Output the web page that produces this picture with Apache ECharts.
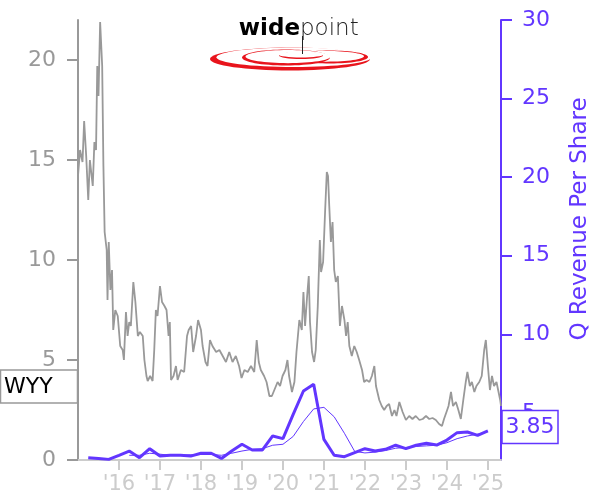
<!DOCTYPE html>
<html>
<head>
<meta charset="utf-8">
<script src="https://cdn.jsdelivr.net/npm/echarts@6/dist/echarts.min.js"></script>
<style>html,body{margin:0;padding:0;background:#fff;}#c{width:600px;height:500px;}</style>
</head>
<body>
<div id="c"></div>
<script>
// ---- data ----
const ticker = 'WYY';
const yearTicks = [2016, 2017, 2018, 2019, 2020, 2021, 2022, 2023, 2024, 2025];

const priceDates = [
2015.00,2015.05,2015.11,2015.15,2015.20,2015.25,2015.29,2015.36,2015.40,2015.44,2015.47,2015.50,2015.54,2015.59,2015.62,2015.65,2015.70,2015.72,2015.75,2015.79,2015.83,2015.86,2015.91,2015.97,
2016.03,2016.09,2016.12,2016.17,2016.21,2016.25,2016.29,2016.35,2016.40,2016.46,2016.51,2016.58,2016.62,2016.67,2016.70,2016.76,2016.82,2016.86,2016.90,2016.94,
2017.00,2017.05,2017.11,2017.16,2017.21,2017.24,2017.27,2017.33,2017.39,2017.43,2017.51,2017.59,2017.66,2017.70,2017.76,2017.81,2017.88,2017.93,
2018.00,2018.04,2018.11,2018.16,2018.22,2018.28,2018.37,2018.45,2018.53,2018.61,2018.69,2018.77,2018.85,2018.93,2018.99,
2019.06,2019.14,2019.22,2019.30,2019.36,2019.41,2019.46,2019.54,2019.60,2019.67,2019.73,2019.79,2019.87,2019.93,2019.99,
2020.06,2020.11,2020.15,2020.22,2020.28,2020.33,2020.40,2020.46,2020.50,2020.54,2020.59,2020.63,2020.66,2020.71,2020.76,2020.80,2020.85,2020.90,2020.93,2020.98,
2021.03,2021.07,2021.10,2021.13,2021.17,2021.21,2021.25,2021.29,2021.34,2021.39,2021.44,2021.50,2021.54,2021.58,2021.62,2021.68,2021.74,2021.80,2021.86,2021.93,2021.98,
2022.04,2022.11,2022.17,2022.23,2022.27,2022.35,2022.41,2022.47,2022.53,2022.59,2022.66,2022.72,2022.77,2022.84,2022.92,
2023.00,2023.08,2023.16,2023.24,2023.33,2023.41,2023.49,2023.57,2023.65,2023.73,2023.81,2023.88,2023.93,2023.99,
2024.04,2024.10,2024.15,2024.22,2024.28,2024.34,2024.40,2024.46,2024.50,2024.56,2024.61,2024.67,2024.72,2024.79,2024.85,2024.91,2024.95,
2025.00,2025.05,2025.10,2025.15,2025.21,2025.26,2025.30,2025.32
];
const priceValues = [
14.2,15.5,14.9,16.95,15.2,13.0,15.0,13.7,15.9,15.5,19.7,18.2,21.9,19.7,14.7,11.4,10.5,8.0,10.9,8.5,9.5,6.5,7.5,7.2,
5.7,5.5,5.0,7.4,6.2,6.9,6.7,8.9,7.9,6.2,6.4,6.2,5.0,4.2,3.95,4.2,3.95,5.5,7.5,7.2,
8.7,7.9,7.7,7.5,6.2,6.9,4.0,4.2,4.7,4.0,4.5,4.4,6.2,6.5,6.7,5.4,6.2,7.0,
6.5,5.7,4.9,4.7,6.0,5.7,5.4,5.5,5.2,4.9,5.4,4.9,5.2,4.7,4.1,
4.5,4.4,4.7,4.4,6.0,4.9,4.5,4.2,3.9,3.2,3.2,3.5,3.9,3.7,4.2,
4.5,5.0,4.2,3.4,3.9,5.4,7.0,6.5,8.4,6.7,8.2,9.2,6.9,5.4,4.9,5.5,7.7,11.0,9.4,9.9,
12.5,14.4,14.2,12.7,10.9,11.9,9.5,8.9,9.2,6.7,7.7,7.0,6.2,6.9,5.7,5.2,5.7,5.4,5.0,4.5,3.9,
4.0,3.9,4.2,4.7,3.7,3.0,2.7,2.5,2.7,2.8,2.2,2.5,2.2,2.9,2.4,
2.0,2.2,2.05,2.2,2.0,2.05,2.2,2.05,2.1,2.0,1.8,1.7,2.05,2.4,
2.7,3.4,2.7,2.9,2.5,2.05,3.0,3.9,4.4,3.7,3.9,3.4,3.7,3.9,4.2,5.5,6.0,
4.7,3.5,4.2,3.7,3.9,3.4,3.0,2.7
];

const revQuarters = [
'2015Q1','2015Q2','2015Q3','2015Q4','2016Q1','2016Q2','2016Q3','2016Q4',
'2017Q1','2017Q2','2017Q3','2017Q4','2018Q1','2018Q2','2018Q3','2018Q4',
'2019Q1','2019Q2','2019Q3','2019Q4','2020Q1','2020Q2','2020Q3','2020Q4',
'2021Q1','2021Q2','2021Q3','2021Q4','2022Q1','2022Q2','2022Q3','2022Q4',
'2023Q1','2023Q2','2023Q3','2023Q4','2024Q1','2024Q2','2024Q3','2024Q4'
];
const revValues = [
2.15,2.1,2.04,2.3,2.57,2.15,2.72,2.25,
2.3,2.3,2.25,2.43,2.43,2.1,2.57,3.0,
2.64,2.64,3.53,3.36,4.9,6.39,6.82,3.31,
2.3,2.21,2.47,2.72,2.57,2.68,2.94,2.72,
2.94,3.06,2.95,3.27,3.74,3.78,3.57,3.85
];
const revAvgValues = [
null,null,null,null,2.3,2.3,2.43,2.37,
2.3,2.3,2.33,2.35,2.35,2.3,2.43,2.57,
2.68,2.72,2.94,3.0,3.5,4.45,5.25,5.35,
4.75,3.7,2.55,2.45,2.5,2.6,2.75,2.8,
2.86,2.9,2.94,3.1,3.36,3.53,3.64,3.81
];
const priceTag = 3.7;
const revTag = 3.85;

// ---- build ----
function qToYear(q) { return parseInt(q.slice(0, 4)) + parseInt(q.slice(5)) / 4; }
const priceData = priceDates.map((d, i) => [d, priceValues[i]]);
const revData = revQuarters.map((q, i) => [qToYear(q), revValues[i]]);
const revAvgData = revQuarters.map((q, i) => [qToYear(q), revAvgValues[i]]);

const PURPLE = '#6236ff';
const GREY = '#999999';
const LIGHT = '#cccccc';
const RED = '#e8141c';
const FONT = 'DejaVu Sans';

// crescent = red ellipse partly covered by a white ellipse
function crescent(r, w) {
  return [
    { type: 'ellipse', shape: { cx: r[0], cy: r[1], rx: r[2], ry: r[3] }, style: { fill: RED }, z: 10 },
    { type: 'ellipse', shape: { cx: w[0], cy: w[1], rx: w[2], ry: w[3] }, style: { fill: '#fff' }, z: 10 }
  ];
}

const chart = echarts.init(document.getElementById('c'), null, { renderer: 'canvas' });
chart.setOption({
  animation: false,
  backgroundColor: '#ffffff',
  grid: { left: 78, right: 99, top: 20, bottom: 40, containLabel: false },
  xAxis: {
    type: 'value', min: 2015, max: 2025.32, interval: 1,
    splitLine: { show: false },
    axisLine: { show: true, lineStyle: { color: LIGHT, width: 2 } },
    axisTick: { show: true, length: 10, lineStyle: { color: LIGHT, width: 2 } },
    axisLabel: {
      showMinLabel: false, showMaxLabel: false, margin: 14,
      color: LIGHT, fontSize: 21, fontFamily: FONT,
      formatter: v => yearTicks.indexOf(Math.round(v)) >= 0 ? "'" + String(Math.round(v)).slice(2) : ''
    }
  },
  yAxis: [
    {
      type: 'value', position: 'left', min: 0, max: 22, interval: 5,
      splitLine: { show: false },
      axisLine: { show: true, lineStyle: { color: GREY, width: 2 } },
      axisTick: { show: true, length: 11, lineStyle: { color: GREY, width: 2 } },
      axisLabel: { showMaxLabel: false, margin: 22, color: GREY, fontSize: 22, fontFamily: FONT }
    },
    {
      type: 'value', position: 'right', min: 2, max: 30,
      splitLine: { show: false },
      axisLine: { show: true, lineStyle: { color: PURPLE, width: 2 } },
      axisTick: { show: true, length: 11, lineStyle: { color: PURPLE, width: 2 } },
      axisLabel: { showMinLabel: false, margin: 21, color: PURPLE, fontSize: 22, fontFamily: FONT }
    }
  ],
  series: [
    {
      type: 'line', yAxisIndex: 0, data: priceData, symbol: 'none',
      lineStyle: { color: '#999999', width: 1.8 }, z: 2
    },
    {
      type: 'line', yAxisIndex: 1, data: revAvgData, symbol: 'none', connectNulls: false,
      lineStyle: { color: PURPLE, width: 1 }, z: 3
    },
    {
      type: 'line', yAxisIndex: 1, data: revData, symbol: 'none',
      lineStyle: { color: PURPLE, width: 3 }, z: 4
    }
  ]
});

const yPrice = chart.convertToPixel({ yAxisIndex: 0 }, priceTag);
const yRev = chart.convertToPixel({ yAxisIndex: 1 }, revTag) - 4;

const logo = [].concat(
  crescent([290, 59, 80, 11.5], [294, 57.2, 77.5, 9.8]),
  crescent([330, 57, 38, 6.5], [326.5, 56.3, 37.5, 5.4]),
  crescent([286, 57.5, 44, 8], [288, 56.6, 42.5, 6.6]),
  crescent([301, 55.5, 22, 3.5], [301, 54.6, 22.5, 3.0])
);

chart.setOption({
  graphic: logo.concat([
    { type: 'text', x: 300, y: 29, style: { text: 'wide', fontFamily: FONT, fontWeight: 'bold', fontSize: 23, fill: '#000', align: 'right', verticalAlign: 'middle' }, z: 11 },
    { type: 'text', x: 300, y: 29, style: { text: 'point', fontFamily: FONT, fontWeight: 200, fontSize: 23, fill: '#222', align: 'left', verticalAlign: 'middle' }, z: 11 },
    { type: 'line', shape: { x1: 302.5, y1: 36, x2: 302.5, y2: 54 }, style: { stroke: '#222', lineWidth: 1 }, z: 11 },
    // ticker tag
    { type: 'rect', shape: { x: 0.5, y: yPrice - 16, width: 77, height: 33 }, style: { fill: '#fff', stroke: GREY, lineWidth: 1.5 }, z: 100 },
    { type: 'text', x: 4, y: yPrice + 1, style: { text: ticker, fontFamily: FONT, fontSize: 22, fill: '#000', align: 'left', verticalAlign: 'middle' }, z: 101 },
    // revenue tag
    { type: 'rect', shape: { x: 502, y: yRev - 16.5, width: 56, height: 33 }, style: { fill: '#fff', stroke: PURPLE, lineWidth: 1.5 }, z: 100 },
    { type: 'text', x: 530, y: yRev + 0.5, style: { text: String(revTag), fontFamily: FONT, fontSize: 22, fill: PURPLE, align: 'center', verticalAlign: 'middle' }, z: 101 },
    // right axis name
    { type: 'text', x: 580, y: 219, rotation: Math.PI / 2, style: { text: 'Q Revenue Per Share', fontFamily: FONT, fontSize: 23, fill: PURPLE, align: 'center', verticalAlign: 'middle' } }
  ])
});
</script>
</body>
</html>
